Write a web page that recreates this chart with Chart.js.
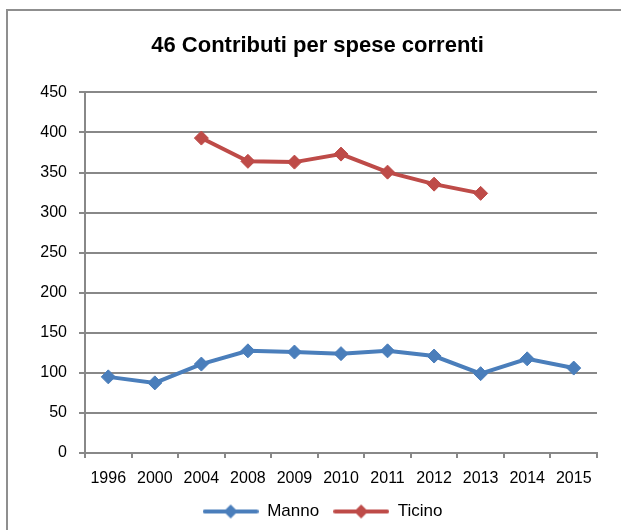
<!DOCTYPE html>
<html>
<head>
<meta charset="utf-8">
<script src="https://cdn.jsdelivr.net/npm/chart.js@4"></script>
<style>
  html, body { margin: 0; padding: 0; background: #fff; }
  #wrap { width: 621px; height: 530px; }
</style>
</head>
<body>
<div id="wrap"><canvas id="chart" width="621" height="530"></canvas></div>
<script>
const years = ['1996', '2000', '2004', '2008', '2009', '2010', '2011', '2012', '2013', '2014', '2015'];
const manno = [95, 87.5, 111, 127.5, 126, 124, 127.5, 121, 99, 117.5, 106];
const ticino = [null, null, 393, 364, 363, 373, 350.5, 335.5, 324, null, null];

const blue = '#4a7ebb';
const red = '#be4b48';
const gridGray = '#888888';
const font = "'Liberation Sans', Arial, sans-serif";

// little line + diamond sample for the legend
function legendIcon(color) {
  const c = document.createElement('canvas');
  c.width = 56;
  c.height = 16;
  const ctx = c.getContext('2d');
  ctx.strokeStyle = color;
  ctx.lineWidth = 4;
  ctx.lineCap = 'round';
  ctx.beginPath();
  ctx.moveTo(2, 8);
  ctx.lineTo(54, 8);
  ctx.stroke();
  ctx.fillStyle = color;
  ctx.beginPath();
  ctx.moveTo(28, 1);
  ctx.lineTo(35, 8);
  ctx.lineTo(28, 15);
  ctx.lineTo(21, 8);
  ctx.closePath();
  ctx.fill();
  return c;
}

const framePlugin = {
  id: 'frame',
  beforeDraw(chart) {
    const ctx = chart.ctx;
    ctx.save();
    ctx.fillStyle = '#fff';
    ctx.fillRect(0, 0, chart.width, chart.height);
    ctx.strokeStyle = '#8f8f8f';
    ctx.lineWidth = 2;
    ctx.strokeRect(7, 10, chart.width + 20, chart.height + 20);
    ctx.restore();
  },
  afterLayout(chart) {
    // title and legend are centred on the frame, not on the plot
    if (chart.titleBlock) {
      chart.titleBlock.left += 19;
      chart.titleBlock.right += 19;
    }
    if (chart.legend) {
      chart.legend.left += 24;
      chart.legend.right += 24;
    }
  }
};

new Chart(document.getElementById('chart'), {
  type: 'line',
  data: {
    labels: years,
    datasets: [
      {
        label: 'Manno',
        data: manno,
        borderColor: blue,
        backgroundColor: blue,
        borderWidth: 4,
        pointStyle: 'rectRot',
        pointRadius: 7,
        pointBorderWidth: 1,
        tension: 0
      },
      {
        label: 'Ticino',
        data: ticino,
        borderColor: red,
        backgroundColor: red,
        borderWidth: 4,
        pointStyle: 'rectRot',
        pointRadius: 7,
        pointBorderWidth: 1,
        tension: 0
      }
    ]
  },
  options: {
    responsive: false,
    animation: false,
    layout: { padding: { top: 10, left: 0, right: 24, bottom: 0 } },
    plugins: {
      title: {
        display: true,
        text: '46 Contributi per spese correnti',
        color: '#000',
        font: { family: font, size: 22, weight: 'bold' },
        padding: { top: 23, bottom: 33 }
      },
      legend: {
        position: 'bottom',
        labels: {
          color: '#000',
          font: { family: font, size: 17 },
          usePointStyle: true,
          pointStyleWidth: 56,
          padding: 14,
          generateLabels(chart) {
            return chart.data.datasets.map((ds, i) => ({
              text: ds.label,
              pointStyle: legendIcon(ds.borderColor),
              fillStyle: ds.borderColor,
              strokeStyle: ds.borderColor,
              lineWidth: 0,
              hidden: false,
              datasetIndex: i
            }));
          }
        }
      },
      tooltip: { enabled: false }
    },
    scales: {
      x: {
        offset: true,
        afterFit(scale) { scale.height = 36; },
        grid: {
          offset: true,
          drawOnChartArea: false,
          color: gridGray,
          lineWidth: 2,
          tickLength: 5
        },
        border: { color: gridGray, width: 2 },
        ticks: {
          color: '#000',
          font: { family: font, size: 16 },
          padding: 11,
          maxRotation: 0,
          autoSkip: false
        }
      },
      y: {
        min: 0,
        max: 450,
        afterFit(scale) { scale.width = 85; },
        grid: {
          color: gridGray,
          lineWidth: 2,
          tickLength: 6
        },
        border: { color: gridGray, width: 2 },
        ticks: {
          stepSize: 50,
          color: '#000',
          font: { family: font, size: 16 },
          padding: 12
        }
      }
    }
  },
  plugins: [framePlugin]
});
</script>
</body>
</html>
